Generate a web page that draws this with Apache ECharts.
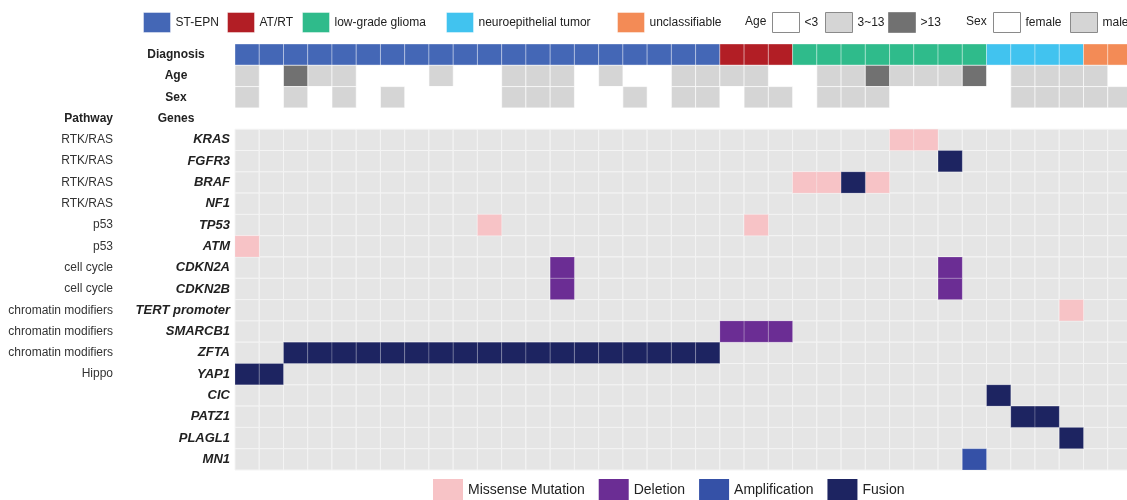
<!DOCTYPE html>
<html>
<head>
<meta charset="utf-8">
<title>Oncoprint</title>
<script src="https://cdn.jsdelivr.net/npm/echarts@6/dist/echarts.min.js"></script>
<style>
  html, body { margin: 0; padding: 0; background: #fff; }
  #chart { width: 1127px; height: 500px; }
</style>
</head>
<body>
<div id="chart"></div>
<script>
// 注释行 + 基因行
const annotationRows = ['Diagnosis', 'Age', 'Sex', 'Genes'];
const genes = ['KRAS', 'FGFR3', 'BRAF', 'NF1', 'TP53', 'ATM', 'CDKN2A', 'CDKN2B',
  'TERT promoter', 'SMARCB1', 'ZFTA', 'YAP1', 'CIC', 'PATZ1', 'PLAGL1', 'MN1'];
const pathways = ['RTK/RAS', 'RTK/RAS', 'RTK/RAS', 'RTK/RAS', 'p53', 'p53', 'cell cycle', 'cell cycle',
  'chromatin modifiers', 'chromatin modifiers', 'chromatin modifiers', 'Hippo', '', '', '', ''];

// 每个样本的诊断 / 年龄 / 性别（按列）
const diagnosisNames = ['ST-EPN', 'AT/RT', 'low-grade glioma', 'neuroepithelial tumor', 'unclassifiable'];
const diagnosis = [0, 0, 0, 0, 0, 0, 0, 0, 0, 0, 0, 0, 0, 0, 0, 0, 0, 0, 0, 0,
  1, 1, 1, 2, 2, 2, 2, 2, 2, 2, 2, 3, 3, 3, 3, 4, 4];
const ageNames = ['<3', '3~13', '>13'];
const age = [1, 0, 2, 1, 1, 0, 0, 0, 1, 0, 0, 1, 1, 1, 0, 1, 0, 0, 1, 1,
  1, 1, 0, 0, 1, 1, 2, 1, 1, 1, 2, 0, 1, 1, 1, 1, 0];
const sexNames = ['female', 'male'];
const sex = [1, 0, 1, 0, 1, 0, 1, 0, 0, 0, 0, 1, 1, 1, 0, 0, 1, 0, 1, 1,
  0, 1, 1, 0, 1, 1, 1, 0, 0, 0, 0, 0, 1, 1, 1, 1, 1];

// 变异：[样本列, 基因]
const missense = [[27, 'KRAS'], [28, 'KRAS'], [23, 'BRAF'], [24, 'BRAF'], [26, 'BRAF'],
  [10, 'TP53'], [21, 'TP53'], [0, 'ATM'], [34, 'TERT promoter']];
const deletion = [[13, 'CDKN2A'], [29, 'CDKN2A'], [13, 'CDKN2B'], [29, 'CDKN2B'],
  [20, 'SMARCB1'], [21, 'SMARCB1'], [22, 'SMARCB1']];
const amplification = [[30, 'MN1']];
const fusion = [[29, 'FGFR3'], [25, 'BRAF'],
  [2, 'ZFTA'], [3, 'ZFTA'], [4, 'ZFTA'], [5, 'ZFTA'], [6, 'ZFTA'], [7, 'ZFTA'], [8, 'ZFTA'],
  [9, 'ZFTA'], [10, 'ZFTA'], [11, 'ZFTA'], [12, 'ZFTA'], [13, 'ZFTA'], [14, 'ZFTA'],
  [15, 'ZFTA'], [16, 'ZFTA'], [17, 'ZFTA'], [18, 'ZFTA'], [19, 'ZFTA'],
  [0, 'YAP1'], [1, 'YAP1'], [31, 'CIC'], [32, 'PATZ1'], [33, 'PATZ1'], [34, 'PLAGL1']];

const diagnosisColors = ['#4467b6', '#b21e25', '#2fbb8b', '#41c3ef', '#f38b56'];
const ageColors = ['#ffffff', '#d5d5d5', '#717171'];
const sexColors = ['#ffffff', '#d5d5d5'];

const rows = annotationRows.concat(genes);
const samples = diagnosis.map((d, i) => 'S' + (i + 1));
const font = 'Liberation Sans, Arial, Helvetica, sans-serif';

// 画一个格子
function cell(params, api) {
  const c = api.coord([api.value(0), api.value(1)]);
  const s = api.size([1, 1]);
  return {
    type: 'rect',
    shape: { x: c[0] - s[0] / 2, y: c[1] - s[1] / 2, width: s[0], height: s[1] },
    style: api.style()
  };
}

function cellSeries(name, data, color, stroke) {
  return {
    name: name,
    type: 'custom',
    renderItem: cell,
    encode: { x: 0, y: 1 },
    itemStyle: { color: color, borderColor: stroke, borderWidth: 1 },
    data: data,
    silent: true
  };
}

let seriesArr = [];

// 基因区域灰色底
let bg = [];
genes.forEach((g) => samples.forEach((s) => bg.push([s, g])));
seriesArr.push(cellSeries('bg', bg, '#e5e5e5', '#f4f4f4'));

// 注释行
diagnosisNames.forEach((n, k) => {
  let d = [];
  diagnosis.forEach((v, i) => { if (v === k) d.push([samples[i], 'Diagnosis']); });
  seriesArr.push(cellSeries(n, d, diagnosisColors[k], 'rgba(255,255,255,0.35)'));
});
ageNames.forEach((n, k) => {
  let d = [];
  age.forEach((v, i) => { if (v === k) d.push([samples[i], 'Age']); });
  seriesArr.push(cellSeries(n, d, ageColors[k], 'rgba(255,255,255,0.6)'));
});
sexNames.forEach((n, k) => {
  let d = [];
  sex.forEach((v, i) => { if (v === k) d.push([samples[i], 'Sex']); });
  seriesArr.push(cellSeries(n, d, sexColors[k], 'rgba(255,255,255,0.6)'));
});

// 变异
const mutationTypes = [
  { name: 'Missense Mutation', data: missense, color: '#f7c3c6' },
  { name: 'Deletion', data: deletion, color: '#6b2d94' },
  { name: 'Amplification', data: amplification, color: '#3551a7' },
  { name: 'Fusion', data: fusion, color: '#1d2461' }
];
mutationTypes.forEach((m) => {
  seriesArr.push(cellSeries(m.name, m.data.map((p) => [samples[p[0]], p[1]]),
    m.color, 'rgba(255,255,255,0.2)'));
});

// 顶部图例，每项单独定位
function legendItem(name, left, boxed) {
  return {
    data: [name],
    left: left,
    top: 12,
    padding: 0,
    itemWidth: 27,
    itemHeight: 20,
    icon: 'rect',
    selectedMode: false,
    itemStyle: boxed ? { borderColor: '#8a8a8a', borderWidth: 1 } : { borderColor: 'rgba(255,255,255,0.4)', borderWidth: 1 },
    textStyle: { color: '#222', fontSize: 12, fontFamily: font }
  };
}
const diagnosisLegendLeft = [143, 227, 302, 446, 617];
const ageLegendLeft = [772, 825, 888];
const sexLegendLeft = [993, 1070];

let legends = [];
diagnosisNames.forEach((n, k) => legends.push(legendItem(n, diagnosisLegendLeft[k], false)));
ageNames.forEach((n, k) => legends.push(legendItem(n, ageLegendLeft[k], true)));
sexNames.forEach((n, k) => legends.push(legendItem(n, sexLegendLeft[k], true)));
legends.push({
  data: mutationTypes.map((m) => m.name),
  left: 433,
  top: 479,
  padding: 0,
  itemWidth: 30,
  itemHeight: 22,
  itemGap: 14,
  icon: 'rect',
  selectedMode: false,
  itemStyle: { borderWidth: 0 },
  textStyle: { color: '#222', fontSize: 14, fontFamily: font }
});

const myChart = echarts.init(document.getElementById('chart'));
myChart.setOption({
  animation: false,
  textStyle: { fontFamily: font },
  legend: legends,
  graphic: [
    { type: 'text', x: 745, y: 22, style: { text: 'Age', fontSize: 12, fill: '#222', fontFamily: font, verticalAlign: 'middle' } },
    { type: 'text', x: 966, y: 22, style: { text: 'Sex', fontSize: 12, fill: '#222', fontFamily: font, verticalAlign: 'middle' } }
  ],
  // 最后一列被右边裁掉一部分
  grid: { left: 235, top: 44, width: 897, bottom: 30, outerBoundsMode: 'none' },
  xAxis: {
    type: 'category',
    data: samples,
    axisLine: { show: false },
    axisTick: { show: false },
    axisLabel: { show: false },
    splitLine: { show: false }
  },
  yAxis: [
    {
      type: 'category',
      data: rows,
      inverse: true,
      axisLine: { show: false },
      axisTick: { show: false },
      axisLabel: {
        margin: 5,
        formatter: (v) => annotationRows.indexOf(v) >= 0 ? '{ann|' + v + '}' : '{gene|' + v + '}',
        rich: {
          ann: { fontWeight: 'bold', fontSize: 12, color: '#222', width: 108, align: 'center' },
          gene: { fontWeight: 'bold', fontStyle: 'italic', fontSize: 13, color: '#222' }
        }
      }
    },
    {
      type: 'category',
      data: rows,
      inverse: true,
      position: 'left',
      offset: 114,
      axisLine: { show: false },
      axisTick: { show: false },
      axisLabel: {
        margin: 8,
        formatter: (v) => {
          if (v === 'Genes') return '{head|Pathway}';
          const g = genes.indexOf(v);
          return g >= 0 ? pathways[g] : '';
        },
        color: '#333',
        fontSize: 12,
        rich: { head: { fontWeight: 'bold', fontSize: 12, color: '#222' } }
      }
    }
  ],
  series: seriesArr
});
</script>
</body>
</html>
